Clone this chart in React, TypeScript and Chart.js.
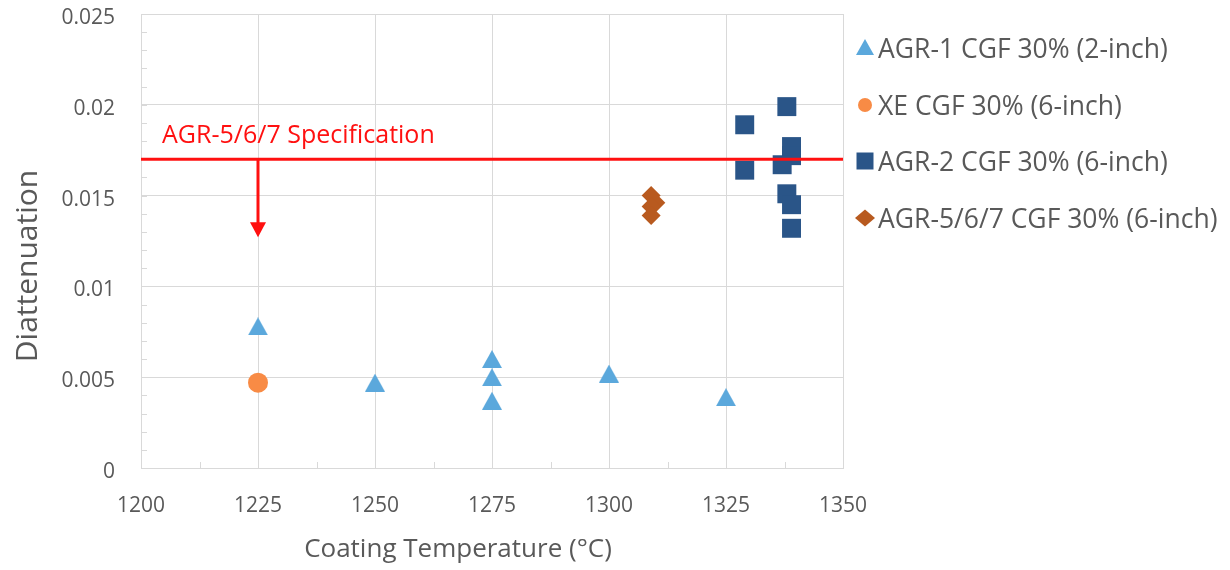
import React, { useEffect, useRef } from 'react';
import { Chart, registerables } from 'chart.js';

Chart.register(...registerables);

// ---------- data ----------
const seriesLabels = [
  'AGR-1 CGF 30% (2-inch)',
  'XE CGF 30% (6-inch)',
  'AGR-2 CGF 30% (6-inch)',
  'AGR-5/6/7 CGF 30% (6-inch)',
];
const agr1Temperature = [1225, 1250, 1275, 1275, 1275, 1300, 1325];
const agr1Diattenuation = [0.0078, 0.0047, 0.006, 0.005, 0.0037, 0.0052, 0.0039];
const xeTemperature = [1225];
const xeDiattenuation = [0.0047];
const agr2Temperature = [1338, 1329, 1329, 1339, 1339, 1337, 1338, 1339, 1339];
const agr2Diattenuation = [0.0199, 0.0189, 0.0164, 0.0177, 0.0172, 0.0167, 0.0151, 0.0145, 0.0132];
const agr567Temperature = [1309, 1310, 1309, 1309];
const agr567Diattenuation = [0.015, 0.0146, 0.0144, 0.0139];

const specLimit = 0.017;
const specLabel = 'AGR-5/6/7 Specification';
const specArrowTemperature = 1225;
const specArrowEnd = 0.0127;
const specLabelTemperature = 1204.5;
const specLabelValue = 0.0183;

const xMin = 1200;
const xMax = 1350;
const xStep = 25;
const yMin = 0;
const yMax = 0.025;
const yStep = 0.005;
const yMinorStep = 0.001;
const xMinorStep = 12.5;

const xAxisTitle = 'Coating Temperature (°C)';
const yAxisTitle = 'Diattenuation';

// ---------- styles ----------
const TEXT = '#595959';
const GRID = '#D9D9D9';
const RED = '#FF1010';
const FONT = "'Open Sans', sans-serif";
const colors = ['#5BA8DC', '#F88B45', '#2A5588', '#B85A1F'];

function makeTriangle(w: number, h: number, color: string) {
  const c = document.createElement('canvas');
  c.width = w;
  c.height = h;
  const ctx = c.getContext('2d')!;
  ctx.fillStyle = color;
  ctx.beginPath();
  ctx.moveTo(w / 2, 0);
  ctx.lineTo(w, h);
  ctx.lineTo(0, h);
  ctx.closePath();
  ctx.fill();
  return c;
}

function toPoints(xs: number[], ys: number[]) {
  return xs.map((x, i) => ({ x, y: ys[i] }));
}

function drawLegendMarker(ctx: CanvasRenderingContext2D, kind: number, cx: number, cy: number, color: string) {
  ctx.fillStyle = color;
  ctx.beginPath();
  if (kind === 0) {
    ctx.moveTo(cx, cy - 8);
    ctx.lineTo(cx + 9, cy + 8);
    ctx.lineTo(cx - 9, cy + 8);
  } else if (kind === 1) {
    ctx.arc(cx, cy, 7, 0, Math.PI * 2);
  } else if (kind === 2) {
    ctx.rect(cx - 8.5, cy - 8.5, 17, 17);
  } else {
    ctx.moveTo(cx, cy - 8.5);
    ctx.lineTo(cx + 10, cy);
    ctx.lineTo(cx, cy + 8.5);
    ctx.lineTo(cx - 10, cy);
  }
  ctx.closePath();
  ctx.fill();
}

const legendX = 865;
const legendTextX = 878;
const legendMarkerY = [47, 105, 161, 218];
const legendTextY = [50, 107, 163, 220];

const overlayPlugin = {
  id: 'overlay',
  beforeDatasetsDraw(chart: any) {
    const { ctx, chartArea, scales } = chart;
    const xs = scales.x;
    const ys = scales.y;
    ctx.save();
    ctx.strokeStyle = GRID;
    ctx.lineWidth = 1;
    ctx.beginPath();
    for (let v = yMin + yMinorStep; v < yMax + 1e-9; v += yMinorStep) {
      const py = Math.round(ys.getPixelForValue(v)) + 0.5;
      ctx.moveTo(chartArea.left, py);
      ctx.lineTo(chartArea.left + 6, py);
    }
    for (let v = xMin + xMinorStep; v < xMax; v += xStep) {
      const px = Math.round(xs.getPixelForValue(v)) + 0.5;
      ctx.moveTo(px, chartArea.bottom);
      ctx.lineTo(px, chartArea.bottom - 6);
    }
    ctx.stroke();
    ctx.restore();
  },
  afterDatasetsDraw(chart: any) {
    const { ctx, chartArea, scales } = chart;
    const xs = scales.x;
    const ys = scales.y;
    ctx.save();
    const yy = ys.getPixelForValue(specLimit);
    ctx.strokeStyle = RED;
    ctx.lineWidth = 3;
    ctx.beginPath();
    ctx.moveTo(chartArea.left, yy);
    ctx.lineTo(chartArea.right, yy);
    ctx.stroke();
    const ax = xs.getPixelForValue(specArrowTemperature);
    const tip = ys.getPixelForValue(specArrowEnd);
    ctx.beginPath();
    ctx.moveTo(ax, yy);
    ctx.lineTo(ax, tip - 12);
    ctx.stroke();
    ctx.fillStyle = RED;
    ctx.beginPath();
    ctx.moveTo(ax - 8, tip - 15);
    ctx.lineTo(ax + 8, tip - 15);
    ctx.lineTo(ax, tip);
    ctx.closePath();
    ctx.fill();
    ctx.font = `25px ${FONT}`;
    ctx.textAlign = 'left';
    ctx.textBaseline = 'middle';
    ctx.fillText(specLabel, xs.getPixelForValue(specLabelTemperature), ys.getPixelForValue(specLabelValue));
    ctx.restore();
  },
  afterDraw(chart: any) {
    const { ctx } = chart;
    ctx.save();
    // axis titles
    ctx.fillStyle = TEXT;
    ctx.textAlign = 'center';
    ctx.textBaseline = 'middle';
    ctx.font = `26px ${FONT}`;
    ctx.fillText(xAxisTitle, 458, 550);
    ctx.save();
    ctx.translate(28, 266);
    ctx.rotate(-Math.PI / 2);
    ctx.font = `30px ${FONT}`;
    ctx.fillText(yAxisTitle, 0, 0);
    ctx.restore();
    // legend
    chart.data.datasets.forEach((ds: any, i: number) => {
      drawLegendMarker(ctx, i, legendX, legendMarkerY[i], colors[i]);
      ctx.fillStyle = TEXT;
      ctx.font = `26.5px ${FONT}`;
      ctx.textAlign = 'left';
      ctx.textBaseline = 'middle';
      ctx.fillText(ds.label, legendTextX, legendTextY[i]);
    });
    ctx.restore();
  },
};

export default function App() {
  const canvasRef = useRef<HTMLCanvasElement | null>(null);

  useEffect(() => {
    document.body.style.margin = '0';
    const canvas = canvasRef.current;
    if (!canvas) return;
    const triangle = makeTriangle(20, 18, colors[0]);
    const chart = new Chart(canvas, {
      type: 'scatter',
      data: {
        datasets: [
          {
            label: seriesLabels[0],
            data: toPoints(agr1Temperature, agr1Diattenuation),
            pointStyle: triangle as any,
            backgroundColor: colors[0],
            borderColor: colors[0],
          },
          {
            label: seriesLabels[1],
            data: toPoints(xeTemperature, xeDiattenuation),
            pointStyle: 'circle',
            pointRadius: 10,
            backgroundColor: colors[1],
            borderColor: colors[1],
            borderWidth: 0,
          },
          {
            label: seriesLabels[2],
            data: toPoints(agr2Temperature, agr2Diattenuation),
            pointStyle: 'rect',
            pointRadius: 13.4,
            backgroundColor: colors[2],
            borderColor: colors[2],
            borderWidth: 0,
          },
          {
            label: seriesLabels[3],
            data: toPoints(agr567Temperature, agr567Diattenuation),
            pointStyle: 'rectRot',
            pointRadius: 9.5,
            backgroundColor: colors[3],
            borderColor: colors[3],
            borderWidth: 0,
          },
        ],
      },
      options: {
        responsive: false,
        animation: false,
        events: [],
        layout: { padding: { top: 14, right: 387, left: 0, bottom: 0 } },
        plugins: {
          legend: { display: false },
          tooltip: { enabled: false },
        },
        scales: {
          x: {
            type: 'linear',
            min: xMin,
            max: xMax,
            ticks: {
              stepSize: xStep,
              color: TEXT,
              font: { family: FONT, size: 21 },
              padding: 25,
              callback: (v: any) => String(v),
            },
            grid: { color: GRID, drawTicks: false, lineWidth: 1 },
            border: { color: GRID, width: 1 },
            afterFit: (s: any) => {
              s.height = 102;
              s.paddingLeft = 0;
              s.paddingRight = 0;
            },
          },
          y: {
            type: 'linear',
            min: yMin,
            max: yMax,
            ticks: {
              stepSize: yStep,
              color: TEXT,
              font: { family: FONT, size: 21 },
              padding: 26,
              labelOffset: 4,
              callback: (v: any) => String(parseFloat(Number(v).toFixed(3))),
            },
            grid: { color: GRID, drawTicks: false, lineWidth: 1 },
            border: { color: GRID, width: 1 },
            afterFit: (s: any) => {
              s.width = 141;
              s.paddingTop = 0;
              s.paddingBottom = 0;
            },
          },
        },
      },
      plugins: [overlayPlugin],
    });
    return () => chart.destroy();
  }, []);

  return (
    <div style={{ width: 1230, height: 570, background: '#fff' }}>
      <canvas ref={canvasRef} width={1230} height={570} />
    </div>
  );
}
